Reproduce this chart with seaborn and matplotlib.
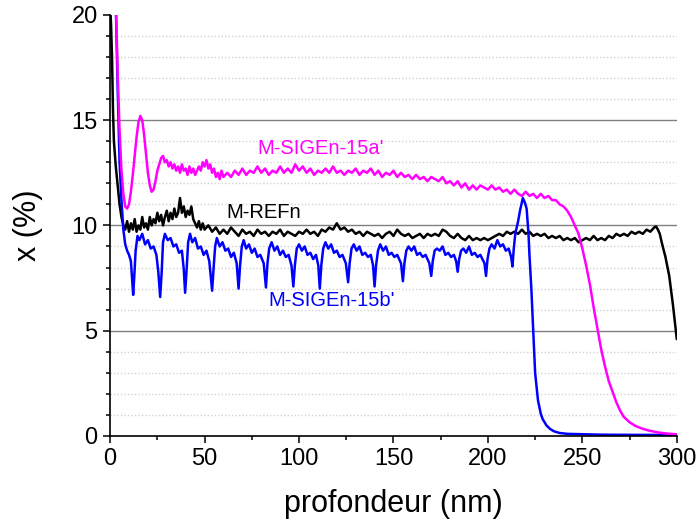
import numpy as np
import pandas as pd
import matplotlib
matplotlib.use("Agg")
import matplotlib.pyplot as plt
from matplotlib.ticker import MultipleLocator
import seaborn as sns

# M-REFn profile (depth in nm, x in %)
ref_depth = [0, 0.5, 1, 1.5, 2, 3, 4, 5, 6, 7,
             8, 9, 10, 11, 12, 13, 14, 15, 16, 17, 18, 19, 20, 21, 22, 23, 24, 25, 26, 27, 28, 29,
             30, 31, 32, 33, 34, 35, 36, 37, 38, 39, 40, 41, 42, 43, 44, 45, 46, 47, 48, 49, 50,
             52, 54, 56, 58, 60, 62, 64, 66, 68, 70, 72, 74, 76, 78, 80, 82, 84, 86, 88, 90,
             92, 94, 96, 98, 100, 102, 104, 106, 108, 110, 112, 114, 116, 118, 120, 122, 124, 126, 128, 130,
             132, 134, 136, 138, 140, 142, 144, 146, 148, 150, 152, 154, 156, 158, 160, 162, 164, 166, 168, 170,
             172, 174, 176, 178, 180, 182, 184, 186, 188, 190, 192, 194, 196, 198, 200, 202, 204, 206, 208, 210,
             212, 214, 216, 218, 220, 222, 224, 226, 228, 230, 232, 234, 236, 238, 240, 242, 244, 246, 248, 250,
             252, 254, 256, 258, 260, 262, 264, 266, 268, 270, 272, 274, 276, 278, 280, 282, 284, 286,
             288, 289, 290, 291, 292, 294, 296, 298, 300]
ref_x = [20.5, 19.5, 18.0, 15.5, 14.0, 12.8, 11.9, 11.0, 10.4, 10.0,
         9.8, 10.2, 9.7, 10.1, 9.8, 10.3, 9.7, 10.0, 9.8, 10.4, 9.9, 10.1, 9.8, 10.4, 10.0, 10.3, 10.1, 10.6, 10.2, 10.5, 10.0, 10.4,
         10.7, 10.2, 10.6, 10.3, 10.8, 10.4, 10.6, 11.3, 10.6, 10.9, 10.4, 10.7, 10.5, 10.9, 10.3, 10.1, 9.9, 10.2, 9.8, 10.1, 9.8,
         10.0, 9.7, 9.9, 9.6, 9.8, 9.6, 9.9, 9.7, 9.5, 9.8, 9.6, 9.7, 9.5, 9.8, 9.6, 9.7, 9.5, 9.7, 9.6, 9.8,
         9.5, 9.7, 9.6, 9.5, 9.7, 9.6, 9.8, 9.6, 9.7, 9.5, 9.8, 9.7, 9.9, 9.8, 10.1, 9.8, 9.9, 9.7, 9.8, 9.6,
         9.7, 9.5, 9.7, 9.6, 9.5, 9.6, 9.4, 9.6, 9.7, 9.5, 9.8, 9.6, 9.5, 9.6, 9.4, 9.5, 9.6, 9.4, 9.6, 9.5,
         9.6, 9.5, 9.8, 9.7, 9.5, 9.4, 9.6, 9.4, 9.3, 9.5, 9.3, 9.4, 9.3, 9.4, 9.3, 9.4, 9.5, 9.6, 9.5, 9.7,
         9.6, 9.7, 9.6, 9.8, 9.6, 9.7, 9.5, 9.6, 9.5, 9.6, 9.4, 9.5, 9.4, 9.5, 9.3, 9.4, 9.3, 9.4, 9.2, 9.3,
         9.4, 9.3, 9.5, 9.3, 9.4, 9.3, 9.5, 9.4, 9.6, 9.5, 9.6, 9.5, 9.7, 9.6, 9.7, 9.6, 9.8, 9.7,
         9.9, 9.95, 9.8, 9.6, 9.2, 8.5, 7.6, 6.2, 4.6]

# M-SIGEn-15b' profile
b_depth = [3, 3.5, 4, 5, 6, 7, 8, 9, 10, 11, 11.6,
           12.2, 12.8, 13.5, 14.5, 15.5, 17, 18.5, 20, 21.5, 23, 24.5, 25.5,
           26.5, 27.3, 28, 29, 30.5, 32, 33.5, 35, 36.5, 38, 39,
           39.7, 40.5, 41.3, 42.3, 43.5, 45, 46.5, 48, 49.5, 51, 52.5,
           54, 54.8, 55.6, 56.5, 58, 59.5, 61, 62.5, 64, 65.5, 67,
           68, 68.8, 69.7, 70.7, 72, 73.5, 75, 76.5, 78, 79.5, 81.3,
           82.5, 83.3, 84.2, 85.5, 87, 88.5, 90, 91.5, 93, 94.5, 96,
           97, 97.8, 98.8, 100, 101.5, 103, 104.5, 106, 107.5, 109, 110.2,
           111, 111.8, 112.8, 114, 115.5, 117, 118.5, 120, 121.5, 123, 124.8,
           126, 126.8, 127.8, 129, 130.5, 132, 133.5, 135, 136.5, 138, 139.2,
           140, 140.8, 141.8, 143, 144.5, 146, 147.5, 149, 150.5, 152, 154,
           155, 155.8, 156.8, 158, 159.5, 161, 162.5, 164, 165.5, 167, 169,
           170, 170.8, 171.8, 173, 174.5, 176, 177.5, 179, 180.5, 182, 183.2,
           184, 184.8, 185.8, 187, 188.5, 190, 191.5, 193, 194.5, 196, 198.2,
           199, 199.8, 200.8, 202, 203.5, 205, 206.5, 208, 209.5, 211, 212.3,
           213, 213.7, 214.5, 216, 217, 218.5, 219.5, 220.5, 221.5, 222, 223,
           224, 225, 226.5, 228, 229, 231, 233, 235, 238, 242, 250, 260, 280, 300]
b_x = [20.5, 18.5, 16.5, 13.0, 11.2, 9.8, 9.1, 8.8, 8.6, 8.3, 7.5,
       6.7, 7.6, 8.8, 9.5, 9.3, 9.6, 9.1, 9.3, 8.9, 9.0, 8.6, 7.8,
       6.6, 7.8, 9.2, 9.6, 9.3, 9.4, 9.0, 9.1, 8.7, 8.8, 7.9,
       6.8, 7.9, 9.2, 9.6, 9.2, 9.4, 8.9, 9.0, 8.6, 8.8, 8.3,
       6.9, 8.0, 9.0, 9.4, 9.0, 9.2, 8.8, 8.9, 8.5, 8.7, 8.2,
       7.0, 8.1, 9.0, 9.3, 8.9, 9.1, 8.7, 8.9, 8.5, 8.6, 8.2,
       7.05, 8.2, 8.9, 9.2, 8.8, 9.0, 8.6, 8.8, 8.5, 8.6, 8.1,
       7.1, 8.1, 8.9, 9.1, 8.8, 9.0, 8.6, 8.7, 8.4, 8.6, 8.1,
       7.0, 8.1, 8.9, 9.2, 8.9, 9.1, 8.7, 8.8, 8.5, 8.6, 8.2,
       7.3, 8.2, 8.9, 9.1, 8.8, 9.0, 8.6, 8.7, 8.5, 8.6, 8.1,
       7.1, 8.1, 8.8, 9.1, 8.8, 9.0, 8.6, 8.7, 8.5, 8.6, 8.2,
       7.35, 8.2, 8.8, 9.0, 8.8, 9.0, 8.6, 8.7, 8.5, 8.6, 8.2,
       7.6, 8.3, 8.8, 8.9, 8.8, 9.0, 8.6, 8.7, 8.5, 8.6, 8.3,
       7.8, 8.4, 8.8, 8.9, 8.7, 9.0, 8.6, 8.7, 8.5, 8.6, 8.2,
       7.6, 8.4, 8.9, 9.1, 8.9, 9.3, 9.0, 9.1, 8.8, 8.9, 8.5,
       8.05, 8.9, 9.6, 10.2, 10.7, 11.3, 11.1, 10.8, 9.6, 8.6, 7.0,
       5.0, 3.0, 1.7, 1.05, 0.8, 0.5, 0.33, 0.22, 0.14, 0.1, 0.08, 0.06, 0.05, 0.05]

# M-SIGEn-15a' profile
a_depth = [3, 3.5, 4, 5, 6, 7, 8, 9, 10, 11, 12, 13, 14, 15, 16, 17, 18, 19, 20,
           21, 22, 23, 24, 25, 26, 27, 28, 29, 30, 31, 32, 33, 34, 35, 36, 37, 38, 39, 40,
           41, 42, 43, 44, 45, 46, 47, 48, 49, 50, 51, 52, 53, 54, 55, 56, 57, 58, 59, 60,
           62, 64, 66, 68, 70, 72, 74, 76, 78, 80, 82, 84, 86, 88, 90, 92, 94, 96, 98, 100,
           102, 104, 106, 108, 110, 112, 114, 116, 118, 120, 122, 124, 126, 128, 130, 132, 134, 136, 138, 140,
           142, 144, 146, 148, 150, 152, 154, 156, 158, 160, 162, 164, 166, 168, 170, 172, 174, 176, 178, 180,
           182, 184, 186, 188, 190, 192, 194, 196, 198, 200, 202, 204, 206, 208, 210, 212, 214, 216, 218, 220,
           222, 224, 226, 228, 230, 232, 234, 236, 238, 240, 242, 244, 246, 248, 250, 252, 254, 256, 258, 260,
           262, 264, 266, 268, 270, 272, 275, 278, 281, 285, 290, 295, 300]
a_x = [20.5, 19.0, 17.2, 14.5, 12.6, 11.5, 10.9, 10.8, 11.0, 11.6, 12.4, 13.3, 14.2, 14.9, 15.2, 15.0, 14.3, 13.4, 12.5,
       11.9, 11.6, 11.7, 12.1, 12.6, 12.9, 13.2, 13.3, 13.0, 13.1, 12.8, 13.0, 12.7, 12.9, 12.6, 12.8, 12.5, 12.9, 12.6, 12.7,
       12.4, 12.8, 12.5, 12.7, 12.4, 12.6, 12.8, 12.6, 13.0, 12.8, 13.1, 12.7, 12.9, 12.5, 12.7, 12.3, 12.5, 12.2, 12.6, 12.3,
       12.5, 12.3, 12.6, 12.4, 12.7, 12.4, 12.6, 12.5, 12.8, 12.5, 12.7, 12.4, 12.6, 12.5, 12.8, 12.5, 12.7, 12.5, 12.9, 12.6,
       12.8, 12.5, 12.7, 12.4, 12.6, 12.5, 12.7, 12.5, 12.8, 12.5, 12.6, 12.4, 12.6, 12.5, 12.7, 12.4, 12.6, 12.5, 12.7, 12.4,
       12.6, 12.3, 12.5, 12.4, 12.6, 12.3, 12.5, 12.3, 12.4, 12.2, 12.4, 12.2, 12.3, 12.1, 12.3, 12.2, 12.1, 12.3, 12.0, 12.1,
       11.9, 12.1, 11.8, 12.0, 11.7, 11.9, 11.7, 11.9, 11.8, 11.7, 11.9, 11.7, 11.8, 11.6, 11.7, 11.5, 11.7, 11.5, 11.4, 11.6,
       11.4, 11.5, 11.3, 11.5, 11.3, 11.4, 11.2, 11.2, 11.0, 10.9, 10.7, 10.4, 10.0, 9.6, 8.9, 8.1, 7.2, 6.1, 5.1, 4.1,
       3.3, 2.6, 2.1, 1.6, 1.2, 0.9, 0.65, 0.48, 0.37, 0.26, 0.17, 0.11, 0.08]

samples = ["M-REFn", "M-SIGEn-15b'", "M-SIGEn-15a'"]
colors = ["#000000", "#0000FF", "#FF00FF"]

df = pd.concat([
    pd.DataFrame({"depth": ref_depth, "x": ref_x, "sample": samples[0]}),
    pd.DataFrame({"depth": b_depth, "x": b_x, "sample": samples[1]}),
    pd.DataFrame({"depth": a_depth, "x": a_x, "sample": samples[2]}),
], ignore_index=True)

sns.set_style("ticks")
plt.rcParams["font.family"] = ["Liberation Sans", "DejaVu Sans"]
plt.rcParams["text.color"] = "black"
plt.rcParams["axes.labelcolor"] = "black"
plt.rcParams["xtick.color"] = "black"
plt.rcParams["ytick.color"] = "black"

fig = plt.figure(figsize=(6.97, 5.31), dpi=100)
ax = fig.add_axes([0.158, 0.179, 0.813, 0.793])

# grid: dotted every 1 %, solid every 5 %
for lvl in range(1, 20):
    if lvl % 5:
        ax.axhline(lvl, color="#d2d2d2", lw=1, ls=(0, (1, 1.5)), zorder=0)
for lvl in (5, 10, 15):
    ax.axhline(lvl, color="#808080", lw=1, zorder=0)

sns.lineplot(data=df, x="depth", y="x", hue="sample", hue_order=samples,
             palette=colors, sort=False, estimator=None, legend=False,
             linewidth=1.8, ax=ax)

ax.set_xlim(0, 300)
ax.set_ylim(0, 20)
ax.xaxis.set_major_locator(MultipleLocator(50))
ax.xaxis.set_minor_locator(MultipleLocator(25))
ax.yaxis.set_major_locator(MultipleLocator(5))
ax.yaxis.set_minor_locator(MultipleLocator(1))
ax.tick_params(which="major", direction="out", length=5, width=1.1, labelsize=17, pad=4,
               color="black", labelcolor="black")
ax.tick_params(which="minor", direction="out", length=3, width=1.1, color="black")

for s in ("top", "right"):
    ax.spines[s].set_visible(False)
for s in ("left", "bottom"):
    ax.spines[s].set_color("black")
    ax.spines[s].set_linewidth(1.2)

ax.set_xlabel("profondeur (nm)", fontsize=22, color="black")
ax.set_ylabel("x (%)", fontsize=22, color="black")
ax.xaxis.set_label_coords(0.5, -0.125)
ax.yaxis.set_label_coords(-0.118, 0.5)

ax.text(77.8, 13.65, "M-SIGEn-15a'", color="#FF00FF", fontsize=14.5, va="center")
ax.text(61.4, 10.6, "M-REFn", color="black", fontsize=14.5, va="center")
ax.text(84, 6.44, "M-SIGEn-15b'", color="#0000FF", fontsize=14.5, va="center")

fig.savefig("out.png", dpi=100)
